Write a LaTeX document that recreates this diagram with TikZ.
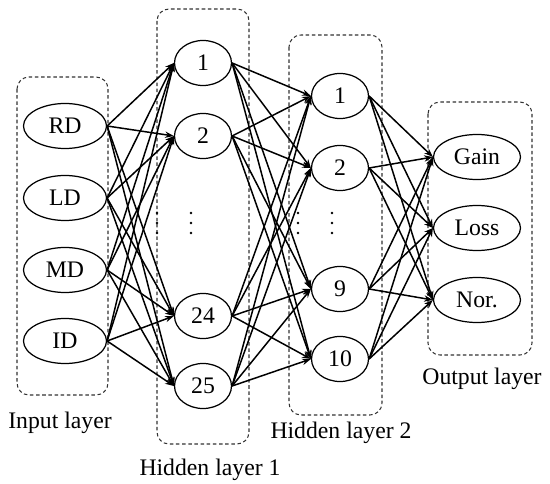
\documentclass[tikz,border=0pt]{standalone}
\usepackage{fontspec}
\setmainfont{Liberation Serif}
\usepackage{tikz}
\usetikzlibrary{arrows.meta, shapes.geometric}

\begin{document}
\begin{tikzpicture}
		    \tikzstyle{every node}=[font=\fontsize{13.5}{16}\selectfont]
		    \tikzstyle{neuron}=[ellipse,draw,line width=0.7pt,inner sep=0pt,minimum height=0.9cm]
		    \tikzstyle{inneuron}=[neuron,minimum width=1.66cm]
		    \tikzstyle{hidneuron}=[neuron,minimum width=1.14cm]
		    \tikzstyle{outneuron}=[neuron,minimum width=1.74cm]
		    \tikzstyle{layerbox}=[draw=black!80,line width=0.6pt,dash pattern=on 2pt off 1.5pt,rounded corners=0.24cm]
		    \tikzstyle{conn}=[line width=0.85pt,-{Stealth[length=5pt,width=3.6pt]}]
		    \useasboundingbox (0,0) rectangle (11,-9.68);
		    % layer boxes
		    \draw [layerbox] (0.34,-1.54) rectangle (2.16,-7.90);
		    \draw [layerbox] (3.14,-0.18) rectangle (4.98,-8.88);
		    \draw [layerbox] (5.78,-0.70) rectangle (7.64,-8.30);
		    \draw [layerbox] (8.56,-2.04) rectangle (10.64,-7.10);
		    % input layer
		    \node [inneuron] at (1.30,-2.52) (in1) {RD};
		    \node [inneuron] at (1.30,-3.96) (in2) {LD};
		    \node [inneuron] at (1.30,-5.40) (in3) {MD};
		    \node [inneuron] at (1.30,-6.82) (in4) {ID};
		    % hidden layer 1
		    \node [hidneuron] at (4.06,-1.26) (ha1) {1};
		    \node [hidneuron] at (4.06,-2.72) (ha2) {2};
		    \node [hidneuron] at (4.06,-6.32) (ha3) {24};
		    \node [hidneuron] at (4.06,-7.72) (ha4) {25};
		    % hidden layer 2
		    \node [hidneuron] at (6.80,-1.92) (hb1) {1};
		    \node [hidneuron] at (6.80,-3.36) (hb2) {2};
		    \node [hidneuron] at (6.80,-5.78) (hb3) {9};
		    \node [hidneuron] at (6.80,-7.18) (hb4) {10};
		    % output layer
		    \node [outneuron] at (9.54,-3.14) (out1) {Gain};
		    \node [outneuron] at (9.54,-4.56) (out2) {Loss};
		    \node [outneuron] at (9.54,-6.00) (out3) {Nor.};
		    % dots
		    \foreach \x in {3.14,3.82,5.96,6.64}
		        \foreach \y in {-4.26,-4.46,-4.66}
		            \fill (\x,\y) circle (0.028);
		    % connections
		    \foreach \i in {1,...,4}
		        \foreach \j in {1,...,4}
		            \draw [conn] (in\i.east) -- (ha\j.west);
		    \foreach \i in {1,...,4}
		        \foreach \j in {1,...,4}
		            \draw [conn] (ha\i.east) -- (hb\j.west);
		    \foreach \i in {1,...,4}
		        \foreach \j in {1,...,3}
		            \draw [conn] (hb\i.east) -- (out\j.west);
		    % layer names
		    \node at (1.20,-8.46) (inname) {Input layer};
		    \node at (4.20,-9.40) (haname) {Hidden layer 1};
		    \node at (6.82,-8.66) (hbname) {Hidden layer 2};
		    \node at (9.64,-7.58) (outname) {Output layer};
	\end{tikzpicture}
\end{document}
